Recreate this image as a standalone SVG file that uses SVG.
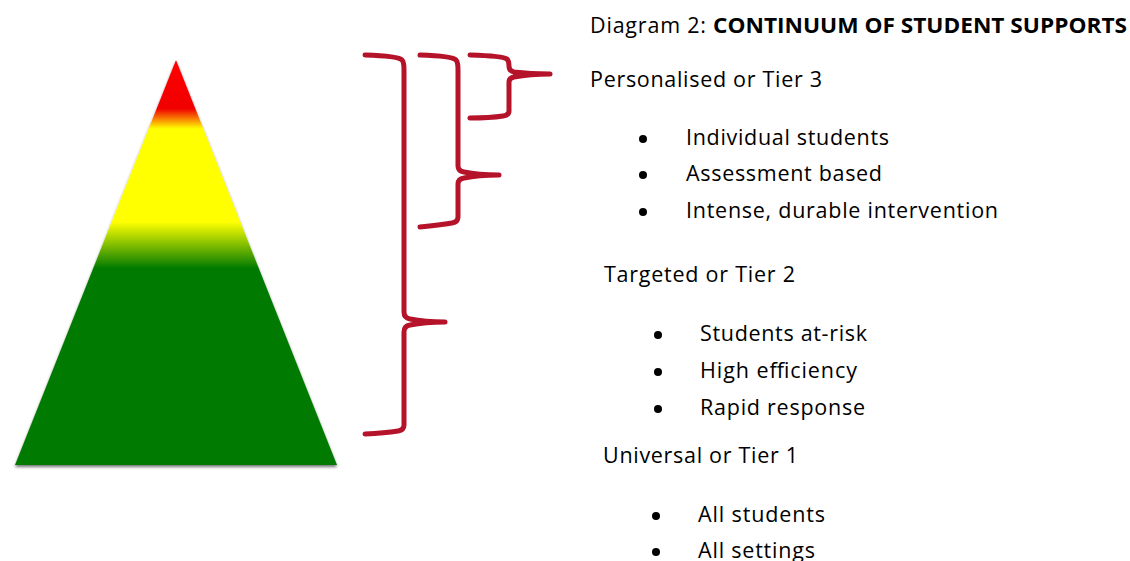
<svg xmlns="http://www.w3.org/2000/svg" width="1130" height="561" viewBox="0 0 1130 561">
  <style>
    .txt { font-family: "Open Sans", "Liberation Sans", sans-serif; font-size: 21.5px; fill: #000; }
    .bold { font-weight: bold; }
    .brace { fill: none; stroke: #B5132A; stroke-width: 5; stroke-linecap: round; stroke-linejoin: round; }
    .dot { fill: #000; }
  </style>
  <defs>
    <linearGradient id="tierFill" gradientUnits="userSpaceOnUse" x1="0" y1="60" x2="0" y2="465">
      <stop offset="0" stop-color="#FF0000"/>
      <stop offset="0.12" stop-color="#F00000"/>
      <stop offset="0.17" stop-color="#FFFF00"/>
      <stop offset="0.40" stop-color="#FFFF00"/>
      <stop offset="0.515" stop-color="#007A00"/>
      <stop offset="1" stop-color="#007A00"/>
    </linearGradient>
    <filter id="shadow" x="-10%" y="-10%" width="120%" height="120%">
      <feDropShadow dx="0" dy="2" stdDeviation="1.6" flood-color="#000" flood-opacity="0.55"/>
    </filter>
  </defs>

  <!-- tier pyramid -->
  <g id="pyramid">
    <polygon points="176,60 15,465 337,465" fill="url(#tierFill)" filter="url(#shadow)"/>
  </g>

  <!-- braces grouping the tiers -->
  <g id="connectors">
    <!-- outer brace: all tiers -->
    <path class="brace" d="M365,55 Q398,56 402,60 Q404,62 404,70 L404,312 Q404,318 410,319 Q425,322 445,322 Q425,322 410,325 Q404,326 404,332 L404,425 Q404,430 398,431 Q385,433 365,434"/>
    <!-- middle brace: tiers 2 and 3 -->
    <path class="brace" d="M420,55 Q452,56 456,60 Q458,62 458,70 L458,166 Q458,171 464,172 Q478,175 499,175 Q478,175 464,178 Q458,179 458,184 L458,217 Q458,222 452,223 Q440,225 420,227"/>
    <!-- inner brace: tier 3 -->
    <path class="brace" d="M470,55 Q503,56 507,59 Q509,61 509,66 Q509,71 514,72 Q530,74 550,74 Q530,74 514,77 Q509,78 509,82 L509,111 Q509,115 503,116 Q490,118 470,118"/>
  </g>

  <!-- title -->
  <g id="title">
    <text class="txt" x="590" y="33" textLength="116" lengthAdjust="spacing">Diagram 2:</text>
    <text class="txt bold" x="713" y="33" textLength="414" lengthAdjust="spacingAndGlyphs">CONTINUUM OF STUDENT SUPPORTS</text>
  </g>

  <!-- tier 3 -->
  <g id="tier3">
    <text class="txt" x="590" y="87" textLength="232" lengthAdjust="spacing">Personalised or Tier 3</text>
    <circle class="dot" cx="643" cy="139" r="4"/>
    <text class="txt" x="686" y="145" textLength="203" lengthAdjust="spacing">Individual students</text>
    <circle class="dot" cx="643" cy="175" r="4"/>
    <text class="txt" x="686" y="181" textLength="196" lengthAdjust="spacing">Assessment based</text>
    <circle class="dot" cx="643" cy="212" r="4"/>
    <text class="txt" x="686" y="218" textLength="312" lengthAdjust="spacing">Intense, durable intervention</text>
  </g>

  <!-- tier 2 -->
  <g id="tier2">
    <text class="txt" x="604" y="282" textLength="191" lengthAdjust="spacing">Targeted or Tier 2</text>
    <circle class="dot" cx="658" cy="335" r="4"/>
    <text class="txt" x="700" y="341" textLength="167" lengthAdjust="spacing">Students at-risk</text>
    <circle class="dot" cx="658" cy="372" r="4"/>
    <text class="txt" x="700" y="378" textLength="157" lengthAdjust="spacing">High efficiency</text>
    <circle class="dot" cx="658" cy="409" r="4"/>
    <text class="txt" x="700" y="415" textLength="165" lengthAdjust="spacing">Rapid response</text>
  </g>

  <!-- tier 1 -->
  <g id="tier1">
    <text class="txt" x="603" y="463" textLength="195" lengthAdjust="spacing">Universal or Tier 1</text>
    <circle class="dot" cx="656" cy="516" r="4"/>
    <text class="txt" x="698" y="522" textLength="127" lengthAdjust="spacing">All students</text>
    <circle class="dot" cx="656" cy="552" r="4"/>
    <text class="txt" x="698" y="558" textLength="117" lengthAdjust="spacing">All settings</text>
  </g>
</svg>
